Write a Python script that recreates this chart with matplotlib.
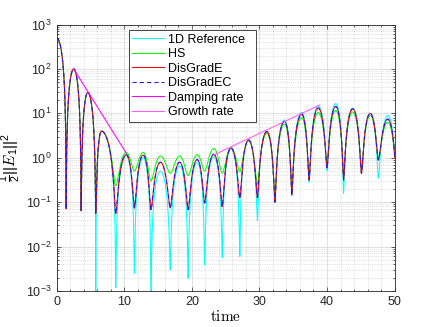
import numpy as np
import matplotlib
matplotlib.use("Agg")
import matplotlib.pyplot as plt
from matplotlib.ticker import LogLocator, FixedLocator, NullFormatter

plt.rcParams['font.family'] = ['Liberation Sans', 'DejaVu Sans']
plt.rcParams['mathtext.fontset'] = 'custom'
plt.rcParams['mathtext.rm'] = 'Liberation Sans'
plt.rcParams['mathtext.it'] = 'Liberation Sans:italic'
plt.rcParams['mathtext.default'] = 'regular'

# ---- data: times of the extrema (peak/trough alternating)
t_ext = [0.0, 1.4, 2.52, 3.62, 4.6, 5.78, 6.62, 8.74, 10.3, 11.5, 12.8, 13.95,
         15.35, 16.8, 18.2, 19.45, 20.8, 21.9, 23.25, 24.5, 25.8, 27.1, 28.4,
         29.7, 31.1, 32.3, 33.7, 34.8, 36.25, 37.35, 38.7, 40.0, 41.3, 42.45,
         43.8, 45.1, 46.4, 47.6, 49.0, 50.3]

# log10 of 1/2||E1||^2 at those extrema
logE_disgrad = [2.7, -1.15, 2.0, -1.19, 1.47, -1.25, 0.6, -1.26, 0.07, -1.13,
                0.06, -1.17, -0.1, -1.13, -0.1, -1.17, -0.04, -1.02, 0.08, -1.1,
                0.22, -0.9, 0.4, -0.9, 0.59, -1.0, 0.82, -0.83, 0.98, -0.5,
                1.12, -0.23, 1.155, -0.5, 1.1, -0.35, 1.0, -0.05, 0.87, -0.6]
logE_disgradEC = [2.7, -1.15, 2.0, -1.19, 1.47, -1.25, 0.6, -1.26, 0.07, -1.13,
                  0.06, -1.17, -0.1, -1.13, -0.1, -1.17, -0.04, -1.02, 0.08, -1.1,
                  0.22, -0.9, 0.4, -0.9, 0.59, -1.0, 0.82, -0.83, 0.98, -0.5,
                  1.12, -0.23, 1.155, -0.5, 1.1, -0.35, 1.0, -0.05, 0.87, -0.6]
logE_hs = [2.7, -1.15, 2.0, -1.19, 1.47, -1.25, 0.6, -0.63, 0.12, -0.3,
           0.12, -0.52, 0.04, -0.35, 0.04, -0.4, 0.07, -0.3, 0.21, -0.35,
           0.22, -0.31, 0.38, -0.6, 0.55, -0.9, 0.76, -0.8, 0.9, -0.5,
           1.02, -0.1, 1.065, -0.4, 1.03, -0.3, 0.95, 0.0, 0.8, -0.3]
logE_ref = [2.7, -1.15, 2.0, -1.19, 1.47, -3.6, 0.6, -2.93, 0.05, -2.6,
            0.0, -3.5, -0.3, -2.52, -0.18, -2.71, -0.1, -2.41, 0.03, -2.25,
            0.2, -2.22, 0.4, -1.41, 0.6, -1.0, 0.85, -0.85, 1.02, -0.55,
            1.17, -0.29, 1.22, -0.8, 1.12, -0.3, 1.0, -0.46, 0.95, -0.8]

damp_t = [2.52, 10.3]
damp_E = [100.0, 1.27]
grow_t = [23.3, 38.9]
grow_E = [1.17, 15.4]

labels = ['1D Reference', 'HS', 'DisGradE', 'DisGradEC', 'Damping rate', 'Growth rate']
x_ticks = [0, 10, 20, 30, 40, 50]


def arches(tk, lk, n=40):
    """Draw cos^2-shaped arches between consecutive read extrema."""
    ts, ys = [], []
    for i in range(len(tk) - 1):
        t0, t1 = tk[i], tk[i + 1]
        v0, v1 = 10.0 ** lk[i], 10.0 ** lk[i + 1]
        s = np.linspace(0, 1, n, endpoint=(i == len(tk) - 2))
        hi, lo = max(v0, v1), min(v0, v1)
        if v0 >= v1:
            y = lo + (hi - lo) * np.cos(np.pi * s / 2) ** 2
        else:
            y = lo + (hi - lo) * np.sin(np.pi * s / 2) ** 2
        ts.append(t0 + (t1 - t0) * s)
        ys.append(y)
    return np.concatenate(ts), np.concatenate(ys)


fig = plt.figure(figsize=(4.36, 3.27), dpi=100)
ax = fig.add_axes([0.13, 0.11, 0.775, 0.815])

lw = 0.75
ax.semilogy(*arches(t_ext, logE_ref), color=(0, 1, 1), lw=lw, label=labels[0])
ax.semilogy(*arches(t_ext, logE_hs), color=(0, 1, 0), lw=lw, label=labels[1])
ax.semilogy(*arches(t_ext, logE_disgrad), color=(1, 0, 0), lw=lw, label=labels[2])
ax.semilogy(*arches(t_ext, logE_disgradEC), color=(0.1, 0.1, 1), lw=lw, ls=(0, (4, 3)),
            label=labels[3])
ax.semilogy(damp_t, damp_E, color=(1, 0, 1), lw=lw, label=labels[4])
ax.semilogy(grow_t, grow_E, color=(1, 0.35, 1), lw=lw, label=labels[5])

ax.set_xlim(0, 50)
ax.set_ylim(1e-3, 1e3)
ax.set_xticks(x_ticks)
ax.xaxis.set_minor_locator(FixedLocator(np.arange(0, 51, 2)))
ax.yaxis.set_major_locator(LogLocator(base=10, numticks=10))
ax.yaxis.set_minor_locator(LogLocator(base=10, subs=np.arange(2, 10), numticks=20))
ax.yaxis.set_minor_formatter(NullFormatter())

dark = (0.15, 0.15, 0.15)
ax.grid(True, which='major', color=(0.86, 0.86, 0.86), lw=0.6, ls='-')
ax.grid(True, which='minor', color=(0.78, 0.78, 0.78), lw=0.5, ls=':')
ax.set_axisbelow(True)
ax.tick_params(which='both', direction='in', top=True, right=True, colors=dark,
               labelsize=9, width=0.5)
ax.tick_params(which='major', length=3)
ax.tick_params(which='minor', length=1.5)
for sp in ax.spines.values():
    sp.set_color(dark)
    sp.set_linewidth(0.6)

ax.set_xlabel(r'$\mathrm{time}$', math_fontfamily='cm', fontsize=11, labelpad=1)
ax.set_ylabel(r'$\frac{1}{2}||\mathit{E}_1||^2$', math_fontfamily='cm', fontsize=11,
              labelpad=2)

leg = ax.legend(loc='upper left', bbox_to_anchor=(0.213, 0.979, 0.376, 0.0),
                mode='expand', fontsize=9, frameon=True, fancybox=False,
                framealpha=1, edgecolor=dark, handlelength=2.5,
                handletextpad=0.35, labelspacing=0.2, borderpad=0.3,
                borderaxespad=0)
leg.get_frame().set_linewidth(0.6)

fig.savefig('out.png', dpi=100)
